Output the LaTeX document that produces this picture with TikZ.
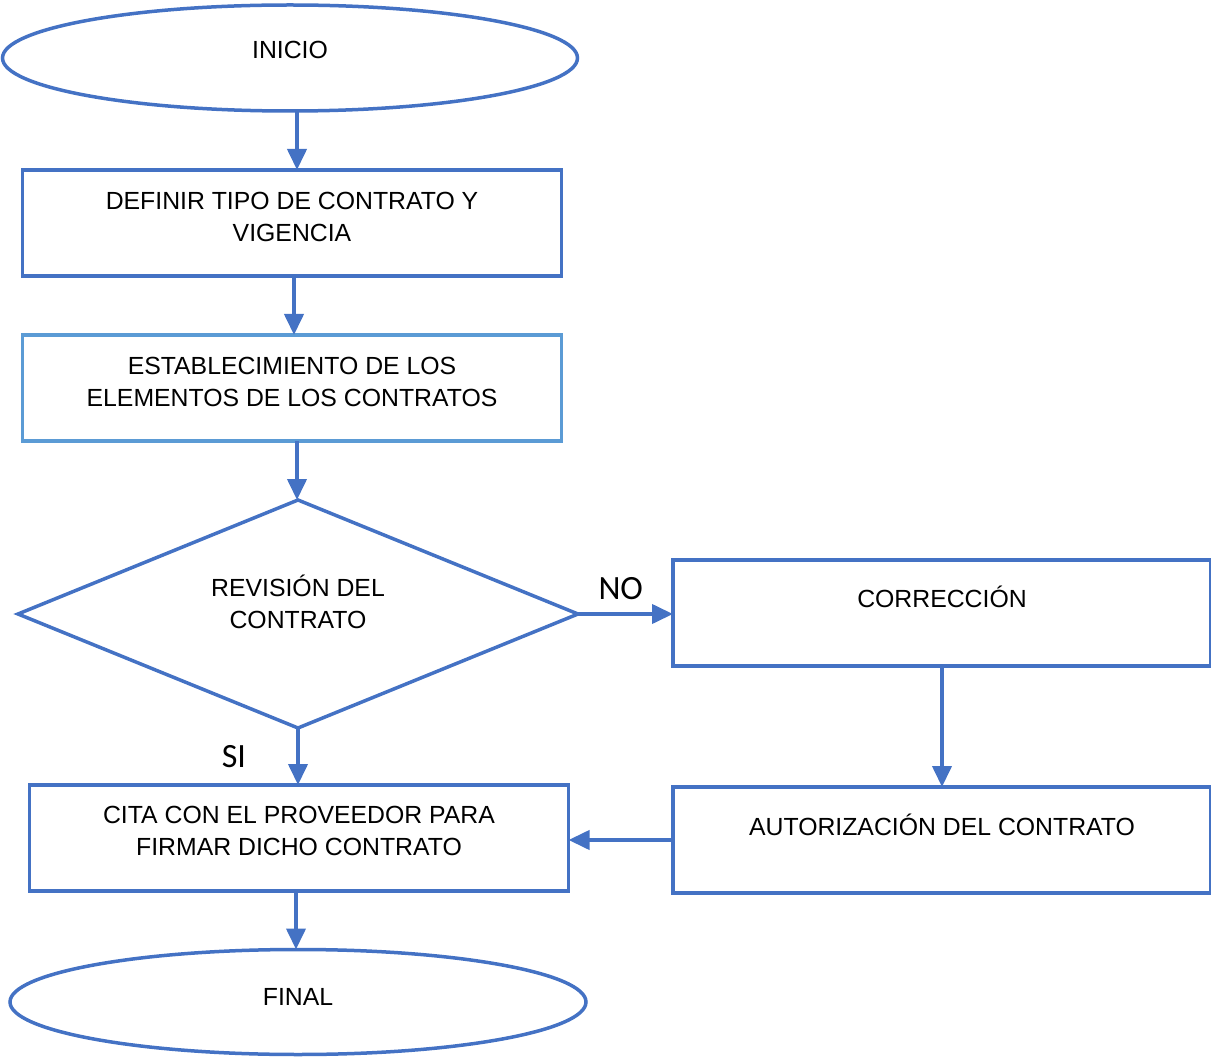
\documentclass[tikz,border=0pt]{standalone}
\usepackage{fontspec}
\setmainfont{Liberation Sans}
\newfontfamily\labelfont{Carlito}
\usetikzlibrary{shapes.geometric,arrows.meta}
\definecolor{flowblue}{RGB}{68,114,196}
\definecolor{lightblue}{RGB}{91,155,213}
\begin{document}
\begin{tikzpicture}[x=1pt,y=-1pt,
  every node/.style={font=\fontsize{24.8}{32}\selectfont, align=center, inner sep=0pt, outer sep=0pt},
  procbox/.style={draw=flowblue, line width=3.5pt, rectangle, minimum width=539pt, minimum height=106pt},
  termnode/.style={draw=flowblue, line width=3.5pt, ellipse, minimum width=575pt, minimum height=106pt},
  decision/.style={draw=flowblue, line width=3.5pt, diamond, minimum width=560pt, minimum height=228pt},
  flow/.style={draw=flowblue, line width=4pt, -{Triangle[length=21pt,width=19pt]}},
  answer/.style={font=\labelfont\fontsize{34}{36}\selectfont}]
\useasboundingbox (0,0) rectangle (1211,1059);

% shapes
\node[termnode] (inicio) at (290,58) {};
\node (inicioT) at (290,50) {INICIO};

\node[procbox] (tipo) at (292,223) {};
\node (tipoT) at (292,217) {DEFINIR TIPO DE CONTRATO Y\\VIGENCIA};

\node[procbox, draw=lightblue] (elem) at (292,388) {};
\node (elemT) at (292,382) {ESTABLECIMIENTO DE LOS\\ELEMENTOS DE LOS CONTRATOS};

\node[decision] (rev) at (298,614) {};
\node (revT) at (298,602) {REVISIÓN DEL\\CONTRATO};

\node[procbox, minimum width=538pt] (corr) at (942,613) {};
\node (corrT) at (942,597) {CORRECCIÓN};

\node[procbox, minimum width=538pt] (aut) at (942,840) {};
\node (autT) at (942,825) {AUTORIZACIÓN DEL CONTRATO};

\node[procbox] (cita) at (299,838) {};
\node (citaT) at (299,831) {CITA CON EL PROVEEDOR PARA\\FIRMAR DICHO CONTRATO};

\node[termnode, minimum width=576pt, minimum height=105pt] (final) at (298,1002) {};
\node (finalT) at (298,997) {FINAL};

% connectors
\draw[flow] (inicio.south -| 297,0) -- (tipo.north -| 297,0);
\draw[flow] (tipo.south -| 294,0) -- (elem.north -| 294,0);
\draw[flow] (elem.south -| 297,0) -- (rev.north -| 297,0);
\draw[flow] (rev.east) -- (corr.west |- rev.east)
  node[answer, pos=0.45, above=14pt] (noT) {NO};
\draw[flow] (corr.south) -- (aut.north);
\draw[flow] (aut.west) -- (cita.east |- aut.west);
\draw[flow] (rev.south) -- (cita.north -| rev.south)
  node[answer, pos=0.5, left=52pt] (siT) {SI};
\draw[flow] (cita.south -| 296,0) -- (final.north -| 296,0);
\end{tikzpicture}
\end{document}
